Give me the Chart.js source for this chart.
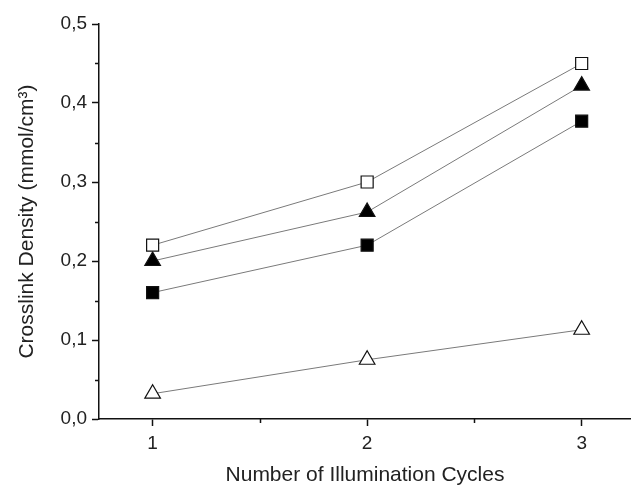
<!DOCTYPE html>
<html>
<head>
<meta charset="utf-8">
<script src="https://cdn.jsdelivr.net/npm/chart.js@4"></script>
<style>
  body { margin: 0; background: #fff; }
  canvas { display: block; }
</style>
</head>
<body>
<canvas id="myChart" width="631" height="492"></canvas>
<script>
const cycles = [1, 2, 3];
const openSquare = [0.22, 0.30, 0.45];
const filledTriangle = [0.20, 0.262, 0.422];
const filledSquare = [0.16, 0.22, 0.377];
const openTriangle = [0.032, 0.075, 0.113];

const xTicks = [1, 2, 3];
const xMinor = [1.5, 2.5];
const yTicks = [0, 0.1, 0.2, 0.3, 0.4, 0.5];
const yMinor = [0.05, 0.15, 0.25, 0.35, 0.45];

const toPoints = arr => arr.map((v, i) => ({ x: cycles[i], y: v }));

// short minor ticks, Chart.js has no minor ticks on linear axes
const minorTicks = {
  id: 'minorTicks',
  afterDraw(chart) {
    const c = chart.ctx, x = chart.scales.x, y = chart.scales.y;
    c.save();
    c.strokeStyle = '#111';
    c.lineWidth = 1.5;
    c.beginPath();
    yMinor.forEach(v => {
      const py = Math.round(y.getPixelForValue(v)) + 0.5;
      c.moveTo(x.left - 4, py); c.lineTo(x.left, py);
    });
    xMinor.forEach(v => {
      const px = Math.round(x.getPixelForValue(v)) + 0.5;
      c.moveTo(px, y.bottom); c.lineTo(px, y.bottom + 4);
    });
    c.stroke();
    c.restore();
  }
};

const ds = (data, style, fill, r) => ({
  data: toPoints(data),
  borderColor: '#7a7a7a',
  borderWidth: 1,
  pointStyle: style,
  pointRadius: r,
  pointBackgroundColor: fill,
  pointBorderColor: '#111',
  pointBorderWidth: 1.2,
  tension: 0,
  clip: false
});

new Chart(document.getElementById('myChart'), {
  type: 'line',
  data: {
    datasets: [
      ds(openSquare, 'rect', '#fff', 8.5),
      ds(filledTriangle, 'triangle', '#000', 9),
      ds(filledSquare, 'rect', '#000', 8.5),
      ds(openTriangle, 'triangle', '#fff', 9)
    ]
  },
  plugins: [minorTicks],
  options: {
    responsive: false,
    animation: false,
    layout: { autoPadding: false, padding: { top: 24, right: 0, left: 0, bottom: 0 } },
    plugins: { legend: { display: false }, tooltip: { enabled: false } },
    scales: {
      x: {
        type: 'linear',
        min: 0.75,
        max: 3.23,
        afterBuildTicks: s => { s.ticks = xTicks.map(v => ({ value: v })); },
        afterFit: s => { s.height = 73; s.paddingLeft = 0; s.paddingRight = 0; },
        grid: { drawOnChartArea: false, tickLength: 7, tickColor: '#111', tickWidth: 1.5 },
        border: { color: '#111', width: 1.5 },
        ticks: { color: '#222', font: { family: 'Liberation Sans', size: 19 }, padding: 6 },
        title: { display: true, text: 'Number of Illumination Cycles', color: '#222',
                 font: { family: 'Liberation Sans', size: 21 }, padding: { top: -5 } }
      },
      y: {
        min: 0,
        max: 0.5,
        afterBuildTicks: s => { s.ticks = yTicks.map(v => ({ value: v })); },
        afterFit: s => { s.width = 99; },
        grid: { drawOnChartArea: false, tickLength: 7, tickColor: '#111', tickWidth: 1.5 },
        border: { color: '#111', width: 1.5 },
        ticks: { color: '#222', font: { family: 'Liberation Sans', size: 19 }, padding: 5,
                 callback: v => v.toFixed(1).replace('.', ',') },
        title: { display: true, text: 'Crosslink Density (mmol/cm³)', color: '#222',
                 font: { family: 'Liberation Sans', size: 21 }, padding: { top: 15 } }
      }
    }
  }
});
</script>
</body>
</html>
